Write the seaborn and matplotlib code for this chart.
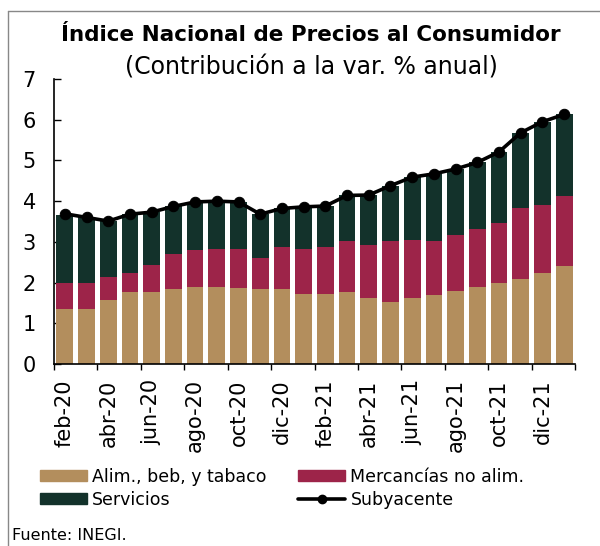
import numpy as np
import pandas as pd
import matplotlib
matplotlib.use("Agg")
import matplotlib.pyplot as plt
from matplotlib.lines import Line2D
from matplotlib.patches import Patch
import seaborn as sns

months = ["feb-20", "mar-20", "abr-20", "may-20", "jun-20", "jul-20", "ago-20", "sep-20",
          "oct-20", "nov-20", "dic-20", "ene-21", "feb-21", "mar-21", "abr-21", "may-21",
          "jun-21", "jul-21", "ago-21", "sep-21", "oct-21", "nov-21", "dic-21", "ene-22"]
alim = [1.34, 1.36, 1.56, 1.77, 1.77, 1.85, 1.89, 1.88, 1.87, 1.83, 1.83, 1.72,
        1.72, 1.77, 1.61, 1.52, 1.63, 1.70, 1.80, 1.89, 1.99, 2.10, 2.24, 2.41]
merc = [0.66, 0.64, 0.58, 0.47, 0.67, 0.84, 0.90, 0.94, 0.96, 0.77, 1.04, 1.10,
        1.16, 1.25, 1.31, 1.49, 1.42, 1.32, 1.36, 1.42, 1.48, 1.72, 1.67, 1.71]
serv = [1.66, 1.60, 1.37, 1.44, 1.29, 1.18, 1.19, 1.18, 1.15, 1.08, 0.95, 1.04,
        1.00, 1.12, 1.23, 1.37, 1.54, 1.65, 1.63, 1.64, 1.74, 1.86, 2.04, 2.01]
subyacente = [3.69, 3.60, 3.51, 3.68, 3.73, 3.87, 3.98, 4.00, 3.98, 3.68, 3.82, 3.86,
              3.88, 4.14, 4.15, 4.38, 4.59, 4.67, 4.79, 4.95, 5.21, 5.68, 5.95, 6.13]
tick_labels = ["feb-20", "abr-20", "jun-20", "ago-20", "oct-20", "dic-20",
               "feb-21", "abr-21", "jun-21", "ago-21", "oct-21", "dic-21"]

c_alim, c_merc, c_serv = "#B38E5D", "#9D2449", "#13322B"

df = pd.DataFrame({"mes": months, "alim": alim, "merc": merc, "serv": serv,
                   "sub": subyacente})
df["lvl2"] = df["alim"] + df["merc"]
df["lvl3"] = df["lvl2"] + df["serv"]
df["pos"] = np.arange(len(df))

sns.set_theme(style="white")
plt.rcParams["font.family"] = ["DejaVu Sans"]
plt.rcParams["text.color"] = "black"
plt.rcParams["xtick.color"] = "black"
plt.rcParams["ytick.color"] = "black"
plt.rcParams["axes.labelcolor"] = "black"

fig = plt.figure(figsize=(6.0, 5.46), dpi=100)
ax = fig.add_axes([54/600, 1-364/546, (575-54)/600, (364-79)/546])

for col, c in [("lvl3", c_serv), ("lvl2", c_merc), ("alim", c_alim)]:
    sns.barplot(data=df, x="mes", y=col, color=c, saturation=1, width=0.77, ax=ax,
                order=months, linewidth=0)
sns.lineplot(data=df, x="pos", y="sub", color="black", lw=2.6, marker="o", markersize=7.5,
             markeredgecolor="black", ax=ax, zorder=5)

ax.set_xlim(-0.5, 23.5)
ax.set_ylim(0, 7)
ax.set_xlabel("")
ax.set_ylabel("")
ax.set_yticks(range(0, 8))
ax.tick_params(axis="y", direction="in", length=5, width=1, labelsize=15, pad=13, left=True,
               colors="black")
ax.set_xticks(np.arange(0, 24, 2))
ax.set_xticklabels(tick_labels, rotation=90, fontsize=15, color="black")
ax.set_xticks(np.arange(-0.5, 24, 2), minor=True)
ax.tick_params(axis="x", which="major", length=0, pad=11)
ax.tick_params(axis="x", which="minor", direction="out", length=4, width=1, bottom=True,
               color="black")
for s in ["top", "right"]:
    ax.spines[s].set_visible(False)
for s in ["left", "bottom"]:
    ax.spines[s].set_color("black")
    ax.spines[s].set_linewidth(1.2)

fig.text(311/600, 1-35/546, "Índice Nacional de Precios al Consumidor", ha="center", va="center",
         fontsize=15.5, fontweight="bold", color="black")
fig.text(311/600, 1-67/546, "(Contribución a la var. % anual)", ha="center", va="center",
         fontsize=17, color="black")
fig.text(12/600, 1-535/546, "Fuente: INEGI.", ha="left", va="center", fontsize=11.5, color="black")

handles = [Patch(color=c_alim, label="Alim., beb, y tabaco"),
           Patch(color=c_serv, label="Servicios"),
           Patch(color=c_merc, label="Mercancías no alim."),
           Line2D([0], [0], color="black", lw=2.6, marker="o", markersize=6, label="Subyacente")]
leg = fig.legend(handles=handles, ncol=2, loc="upper left", bbox_to_anchor=(24/600, 1-452/546),
                 frameon=False, fontsize=12.5, handlelength=2.7, handleheight=0.6,
                 handletextpad=0.3, columnspacing=1.85, labelspacing=0.3)
for t in leg.get_texts():
    t.set_color("black")

fig.add_artist(Line2D([8/600, 1], [1-11/546, 1-11/546], transform=fig.transFigure,
                      color="#888888", lw=1))
fig.add_artist(Line2D([8/600, 8/600], [0, 1-11/546], transform=fig.transFigure,
                      color="#888888", lw=1))

fig.savefig("out.png", dpi=100)
